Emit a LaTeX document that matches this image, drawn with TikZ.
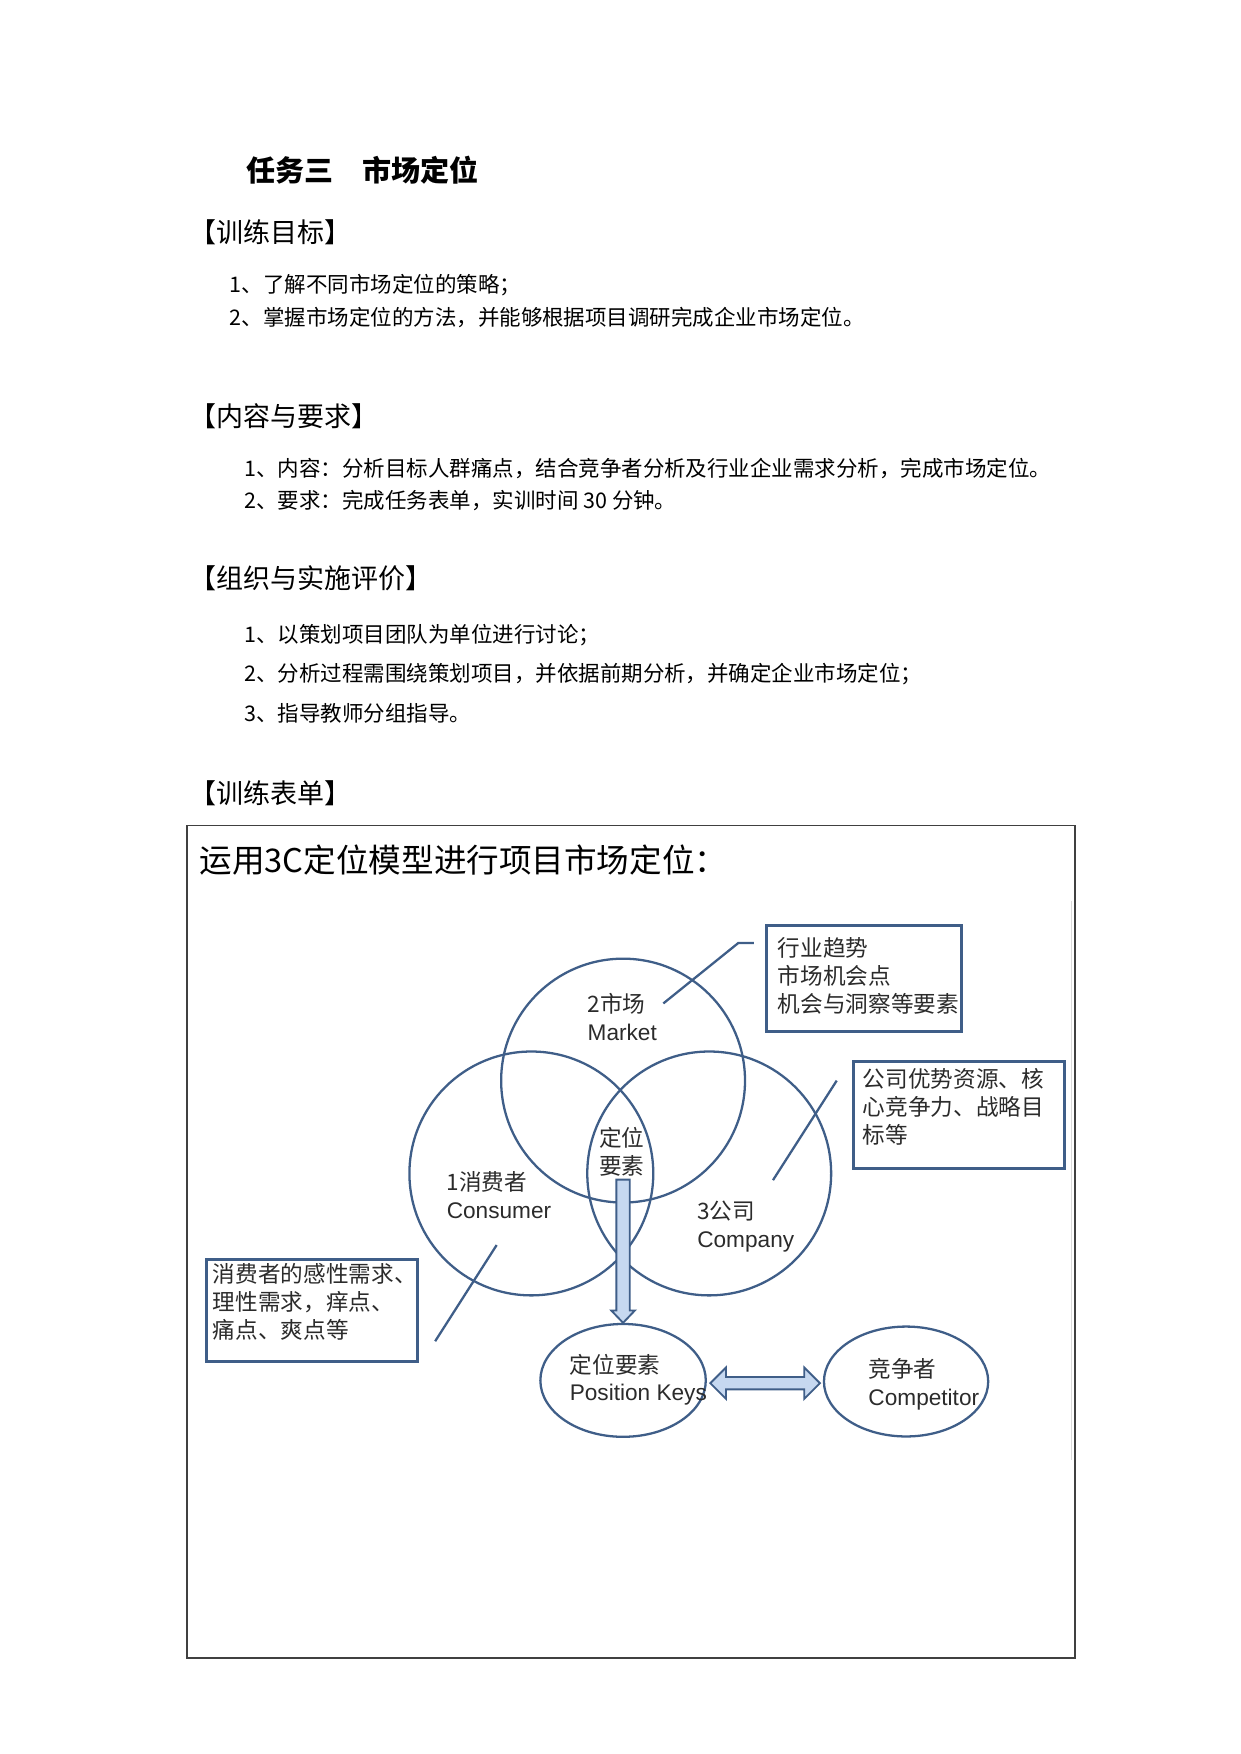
\documentclass[tikz,border=0pt]{standalone}
\usepackage{fontspec}
\setmainfont{Noto Sans CJK SC}
\newfontfamily\lat{Liberation Sans}
\usetikzlibrary{shapes.geometric}
\definecolor{venn}{HTML}{3F5E88}
\definecolor{arrowfill}{HTML}{C6D8F0}
\definecolor{labeltext}{HTML}{2B2B2B}

\begin{document}
\begin{tikzpicture}[x=0.18936mm, y=-0.18936mm,
  body/.style={anchor=west, inner sep=0pt, font=\fontsize{10.35}{12}\selectfont},
  head/.style={anchor=west, inner sep=0pt, font=\fontsize{13}{15}\selectfont},
  bigcircle/.style={circle, draw=venn, line width=1.1pt, minimum size=41.28mm, inner sep=0pt},
  smallellipse/.style={ellipse, draw=venn, line width=1.1pt, inner sep=0pt},
  notebox/.style={draw=venn, line width=1.4pt, anchor=north west, inner sep=0pt},
  lbl/.style={align=left, anchor=west, inner sep=0pt, text=labeltext, font=\fontsize{10.9}{13.4}\selectfont},
  callout/.style={draw=venn, line width=1.1pt},
  blockarrow/.style={draw=venn, fill=arrowfill, line width=0.9pt, line join=miter}]

  \useasboundingbox (0,0) rectangle (1109,1568);

  % Page text
  \node[anchor=west, inner sep=0pt, font=\fontsize{14}{16}\selectfont\bfseries] (title) at (220,152) {任务三　市场定位};

  \node[head] (goal) at (169,208) {【训练目标】};
  \node[body] (goal1) at (205,255) {1、了解不同市场定位的策略；};
  \node[body] (goal2) at (205,284) {2、掌握市场定位的方法，并能够根据项目调研完成企业市场定位。};

  \node[head] (task) at (169,372) {【内容与要求】};
  \node[body] (task1) at (218,419) {1、内容：分析目标人群痛点，结合竞争者分析及行业企业需求分析，完成市场定位。};
  \node[body] (task2) at (218,447) {2、要求：完成任务表单，实训时间 30 分钟。};

  \node[head] (org) at (169,517) {【组织与实施评价】};
  \node[body] (org1) at (218,568) {1、以策划项目团队为单位进行讨论；};
  \node[body] (org2) at (218,603) {2、分析过程需围绕策划项目，并依据前期分析，并确定企业市场定位；};
  \node[body] (org3) at (218,638) {3、指导教师分组指导。};

  \node[head] (form) at (169,709) {【训练表单】};

  % Form frame
  \draw[line width=0.7pt, black!75] (167,738) rectangle (961,1482);
  \draw[line width=0.6pt, black!15] (958,805) -- (958,1305);
  \node[anchor=west, inner sep=0pt, font=\fontsize{15.7}{18}\selectfont] (formtitle) at (178,769) {运用3C定位模型进行项目市场定位：};

  % Three circles
  \node[bigcircle] (market) at (557,966) {};
  \node[bigcircle] (consumer) at (475,1049) {};
  \node[bigcircle] (company) at (634,1049) {};

  \node[lbl] (marketlbl) at (525,909.5) {2市场\\{\lat Market}};
  \node[lbl] (consumerlbl) at (399,1068.5) {1消费者\\{\lat Consumer}};
  \node[lbl] (companylbl) at (623,1096.5) {3公司\\{\lat Company}};
  \node[lbl, anchor=center, align=center] (keylbl) at (556,1029.5) {定位\\要素};

  % Bottom ellipses
  \node[smallellipse, minimum width=28.0mm, minimum height=19.1mm] (pkeys) at (557,1234) {};
  \node[smallellipse, minimum width=27.8mm, minimum height=18.6mm] (rival) at (810,1235) {};
  \node[lbl] (pkeyslbl) at (509,1233.5) {定位要素\\{\lat Position Keys}};
  \node[lbl] (rivallbl) at (776,1237.5) {竞争者\\{\lat Competitor}};

  % Note boxes
  \node[notebox, minimum width=32.95mm, minimum height=17.99mm] (marketnote) at (684,826) {};
  \node[notebox, minimum width=35.60mm, minimum height=17.99mm] (companynote) at (762,948) {};
  \node[notebox, minimum width=35.79mm, minimum height=17.23mm] (consumernote) at (183,1125) {};
  \node[lbl] (marketnotelbl) at (695,872.5) {行业趋势\\市场机会点\\机会与洞察等要素};
  \node[lbl] (companynotelbl) at (771,989.5) {公司优势资源、核\\心竞争力、战略目\\标等};
  \node[lbl] (consumernotelbl) at (190,1164) {消费者的感性需求、\\理性需求，痒点、\\痛点、爽点等};

  % Callout lines
  \coordinate (mk1) at (593,897);
  \coordinate (mk2) at (660,843);
  \coordinate (mk3) at (674,843);
  \draw[callout] (mk1) -- (mk2) -- (mk3);
  \coordinate (co1) at (691,1055);
  \coordinate (co2) at (748,966);
  \draw[callout] (co1) -- (co2);
  \coordinate (cs1) at (444,1113);
  \coordinate (cs2) at (389,1199);
  \draw[callout] (cs1) -- (cs2);

  % Block arrows
  \draw[blockarrow] (pkeys.north) -- ++(-10.5,-11) -- ++(4.5,0) -- ++(0,-117) -- ++(12,0)
    -- ++(0,117) -- ++(4.5,0) -- cycle;
  \coordinate (dl) at (635,1236.5);
  \coordinate (dr) at (733,1236.5);
  \draw[blockarrow] (dl) -- ++(14,-14) -- ++(0,8.5) -- ++(70,0) -- ++(0,-8.5) -- (dr)
    -- ++(-14,14) -- ++(0,-8.5) -- ++(-70,0) -- ++(0,8.5) -- cycle;
\end{tikzpicture}
\end{document}
